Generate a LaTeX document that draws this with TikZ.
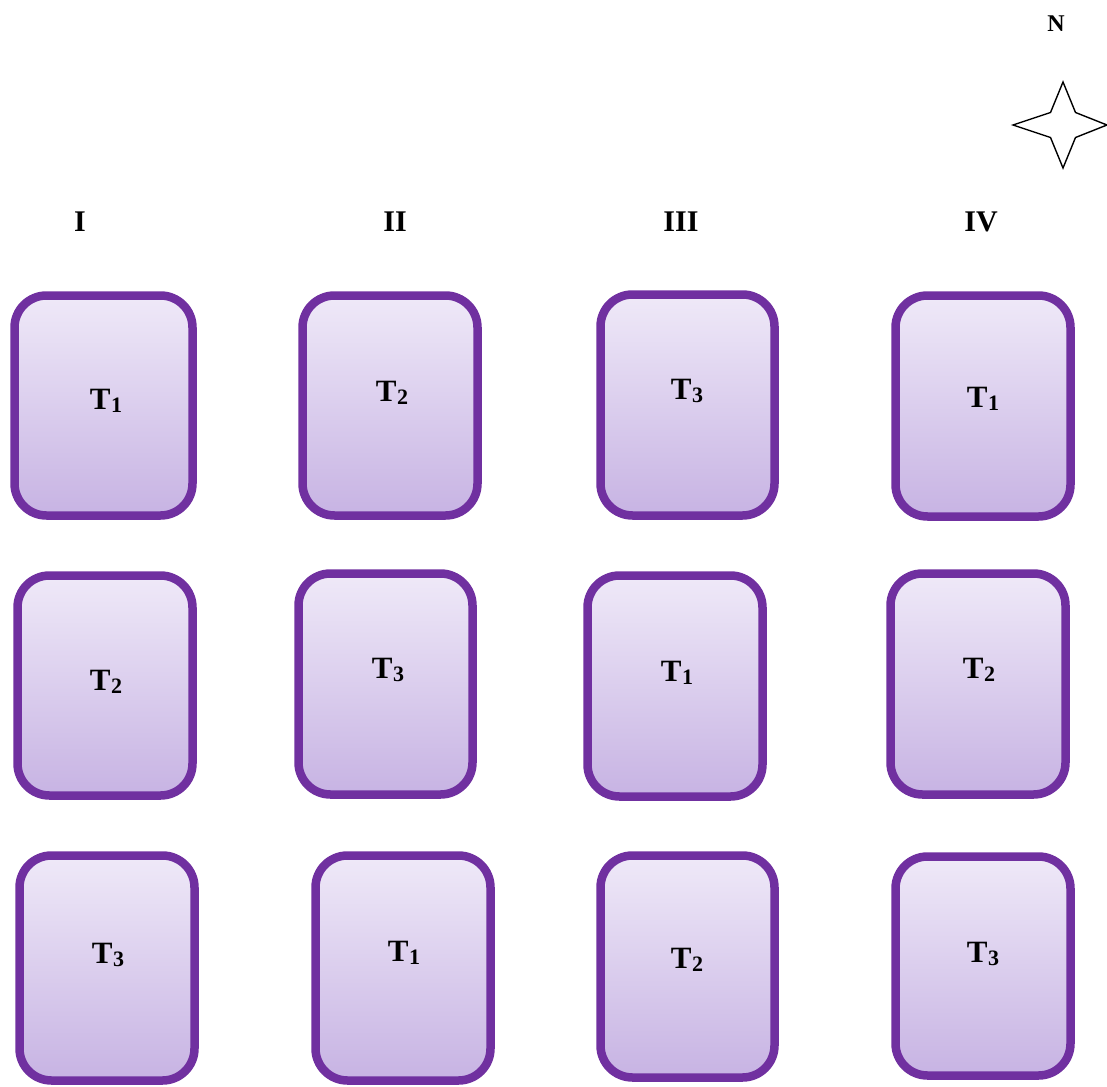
\documentclass[tikz,border=0pt]{standalone}
\usepackage{fontspec}
\setmainfont{Liberation Serif}
\usetikzlibrary{shadows}
\definecolor{plotedge}{HTML}{7030A0}
\definecolor{plottop}{HTML}{EFE9F8}
\definecolor{plotbot}{HTML}{C7B3E3}
\tikzset{
  plot/.style={rectangle, rounded corners=32pt, draw=plotedge, line width=8.5pt,
    top color=plottop, bottom color=plotbot, inner sep=0pt,
    drop shadow={opacity=0.18, shadow xshift=1.5pt, shadow yshift=-3pt}},
  trt/.style={font=\fontsize{31}{34}\selectfont\bfseries, inner sep=0pt},
  blk/.style={font=\fontsize{30}{34}\selectfont\bfseries, inner sep=0pt}
}
% treatment label: bold T with a lowered index
\newcommand{\tr}[1]{T\kern0.5pt\raisebox{-3.5pt}{\fontsize{22}{24}\selectfont #1}}
\begin{document}
\begin{tikzpicture}[x=1pt, y=-1pt]
\useasboundingbox (0,0) rectangle (1107,1086);
% plots
\node[plot, minimum width=178pt, minimum height=220pt] (p11) at (103.5,405.5) {};
\node[plot, minimum width=175pt, minimum height=220pt] (p12) at (390,405.5) {};
\node[plot, minimum width=174pt, minimum height=221pt] (p13) at (687.5,405) {};
\node[plot, minimum width=175pt, minimum height=221pt] (p14) at (983,406) {};
\node[plot, minimum width=175pt, minimum height=220pt] (p21) at (105,685.5) {};
\node[plot, minimum width=174pt, minimum height=221pt] (p22) at (385.5,684) {};
\node[plot, minimum width=175pt, minimum height=221pt] (p23) at (675,686) {};
\node[plot, minimum width=175pt, minimum height=221pt] (p24) at (978,684) {};
\node[plot, minimum width=175pt, minimum height=225pt] (p31) at (107,968) {};
\node[plot, minimum width=175pt, minimum height=225pt] (p32) at (403,968) {};
\node[plot, minimum width=174pt, minimum height=222pt] (p33) at (687.5,966.5) {};
\node[plot, minimum width=175pt, minimum height=219pt] (p34) at (983,966) {};
% treatment labels
\node[trt] (t11) at (106,401) {\tr{1}};
\node[trt] (t12) at (392,393) {\tr{2}};
\node[trt] (t13) at (687,391) {\tr{3}};
\node[trt] (t14) at (983,399) {\tr{1}};
\node[trt] (t21) at (106,682) {\tr{2}};
\node[trt] (t22) at (388,670) {\tr{3}};
\node[trt] (t23) at (677,673) {\tr{1}};
\node[trt] (t24) at (979,670) {\tr{2}};
\node[trt] (t31) at (108,955) {\tr{3}};
\node[trt] (t32) at (404,953) {\tr{1}};
\node[trt] (t33) at (687,960) {\tr{2}};
\node[trt] (t34) at (983,954) {\tr{3}};
% block labels
\node[blk] (b1) at (80,222) {I};
\node[blk] (b2) at (395,222) {II};
\node[blk] (b3) at (681,222) {III};
\node[blk] (b4) at (981,222) {IV};
% north marker
\node[font=\fontsize{24}{26}\selectfont\bfseries, inner sep=0pt] (north) at (1056,24) {N};
\draw[line width=1.4pt, fill=white, line join=miter]
  (1063,82) -- (1075.5,112.5) -- (1107,125) -- (1075.5,137.5) -- (1063,168)
  -- (1050.5,137.5) -- (1013,125) -- (1050.5,112.5) -- cycle;
\end{tikzpicture}
\end{document}
